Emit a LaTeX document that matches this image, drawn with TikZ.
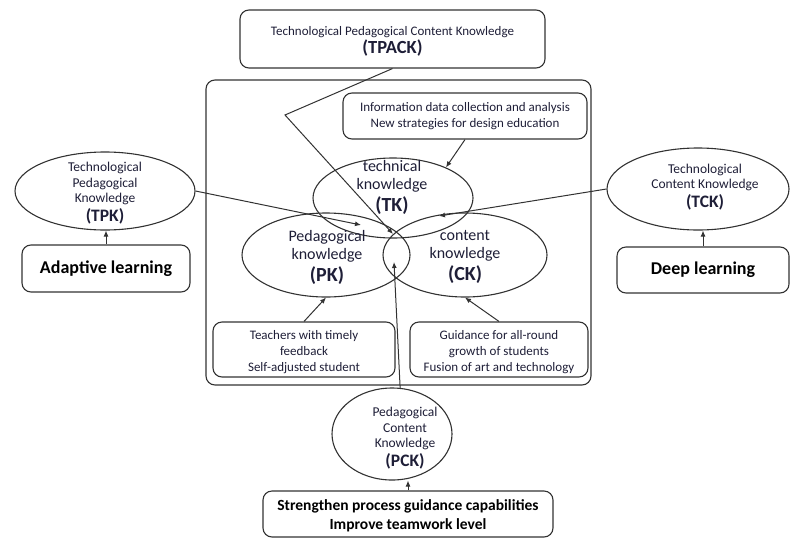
\documentclass[tikz,border=0pt]{standalone}
\usepackage{fontspec}
\setmainfont{Carlito}
\usetikzlibrary{shapes.geometric,arrows.meta}

\definecolor{linegray}{RGB}{50,50,50}
\definecolor{textink}{RGB}{30,30,55}

\tikzset{every picture/.style={line width=1.1pt}}
\tikzset{
  box/.style={draw=linegray, rounded corners=9pt, inner sep=0pt},
  oval/.style={draw=linegray, ellipse, inner sep=0pt},
  small/.style={font=\fontsize{13}{16}\selectfont, text=textink, align=center},
  mid/.style={font=\fontsize{13.5}{15.5}\selectfont, text=textink, align=center},
  big/.style={font=\fontsize{16}{18}\selectfont, text=textink, align=center},
  bold/.style={font=\fontsize{18}{20}\selectfont\bfseries, text=black, align=center},
  link/.style={draw=linegray, line width=1pt, -{Latex[length=6pt,width=5pt]}},
}

\begin{document}
\begin{tikzpicture}[x=1pt,y=1pt,yscale=-1,xscale=1]
\useasboundingbox (0,0) rectangle (791,538);

%Rounded Rect [id:frame]
\node [box, minimum width=385, minimum height=305] (frame) at (398.5,232.5) {};
%Rounded Rect [id:tpack]
\node [box, minimum width=305, minimum height=58, small] (tpack) at (392.5,39)
  {\rule{0pt}{13pt}Technological Pedagogical Content Knowledge\\[2pt]{\fontsize{18.5}{20}\selectfont\bfseries (TPACK)}};
%Rounded Rect [id:info]
\node [box, minimum width=244, minimum height=46, small] (info) at (465,116)
  {Information data collection and analysis\\New strategies for design education};

%Shape: Ellipse [id:tk]
\node [oval, minimum width=160, minimum height=80] (tk) at (393,198) {};
%Shape: Ellipse [id:pk]
\node [oval, minimum width=168, minimum height=84] (pk) at (326,255) {};
%Shape: Ellipse [id:ck]
\node [oval, minimum width=164, minimum height=84] (ck) at (465,255) {};

%Rounded Rect [id:teach]
\node [box, minimum width=182, minimum height=55, small] (teach) at (304,349.5)
  {\rule{0pt}{14pt}Teachers with timely\\feedback\\Self-adjusted student};
%Rounded Rect [id:guide]
\node [box, minimum width=178, minimum height=55, small] (guide) at (499,349.5)
  {\rule{0pt}{14pt}Guidance for all-round\\growth of students\\Fusion of art and technology};

%Shape: Ellipse [id:tpk]
\node [oval, minimum width=180, minimum height=78] (tpk) at (105,191) {};
%Rounded Rect [id:adapt]
\node [box, minimum width=168, minimum height=47, bold] (adapt) at (106,268.5) {Adaptive learning};

%Shape: Ellipse [id:tck]
\node [oval, minimum width=182, minimum height=82] (tck) at (698,189) {};
%Rounded Rect [id:deep]
\node [box, minimum width=172, minimum height=46, bold] (deep) at (703,270) {Deep learning};

%Shape: Ellipse [id:pck]
\node [oval, minimum width=120, minimum height=92] (pck) at (392,434) {};
%Rounded Rect [id:strong]
\node [box, minimum width=290, minimum height=46, bold, font=\fontsize{15.5}{19}\selectfont\bfseries] (strong) at (408,514)
  {\rule{0pt}{15pt}Strengthen process guidance capabilities\\Improve teamwork level};

% Text Node
\node [big] (tktext) at (392,187) {technical\\knowledge\\[4pt]{\fontsize{20}{22}\selectfont\bfseries (TK)}};
% Text Node
\node [big] (pktext) at (327,257) {Pedagogical\\knowledge\\[4pt]{\fontsize{20}{22}\selectfont\bfseries (PK)}};
% Text Node
\node [big] (cktext) at (465,257) {content\\knowledge\\[4pt]{\fontsize{20}{22}\selectfont\bfseries (CK)}};
% Text Node
\node [mid] (tpktext) at (105,193) {Technological\\Pedagogical\\Knowledge\\[3pt]{\fontsize{17.5}{20}\selectfont\bfseries (TPK)}};
% Text Node
\node [mid] (tcktext) at (705,187) {Technological\\Content Knowledge\\[3pt]{\fontsize{17.5}{20}\selectfont\bfseries (TCK)}};
% Text Node
\node [mid] (pcktext) at (405,438) {Pedagogical\\Content\\Knowledge\\[3pt]{\fontsize{17.5}{20}\selectfont\bfseries (PCK)}};

%Straight Lines [id:points]
\coordinate (bend) at (285,115);
\coordinate (core) at (393,234);
\coordinate (pkhit) at (361,225);
\coordinate (ckhit) at (439,216);
\coordinate (pckhit) at (394,262);

%Straight Lines [id:arrows]
\draw [link] (tpack.south) -- (bend) -- (core);
\draw [link] (info.south) -- (tk.30);
\draw [link] (tpk.east) -- (pkhit);
\draw [link] (tck.west) -- (ckhit);
\draw [link] (teach.north) -- (pk.south);
\draw [link] (guide.north) -- (ck.south);
\draw [link] (pck.80) -- (pckhit);
\draw [link] (adapt.north) -- (adapt.north |- tpk.south);
\draw [link] (deep.north) -- (deep.north |- tck.south);
\draw [link] (strong.north) -- (strong.north |- pck.south);
\end{tikzpicture}
\end{document}
